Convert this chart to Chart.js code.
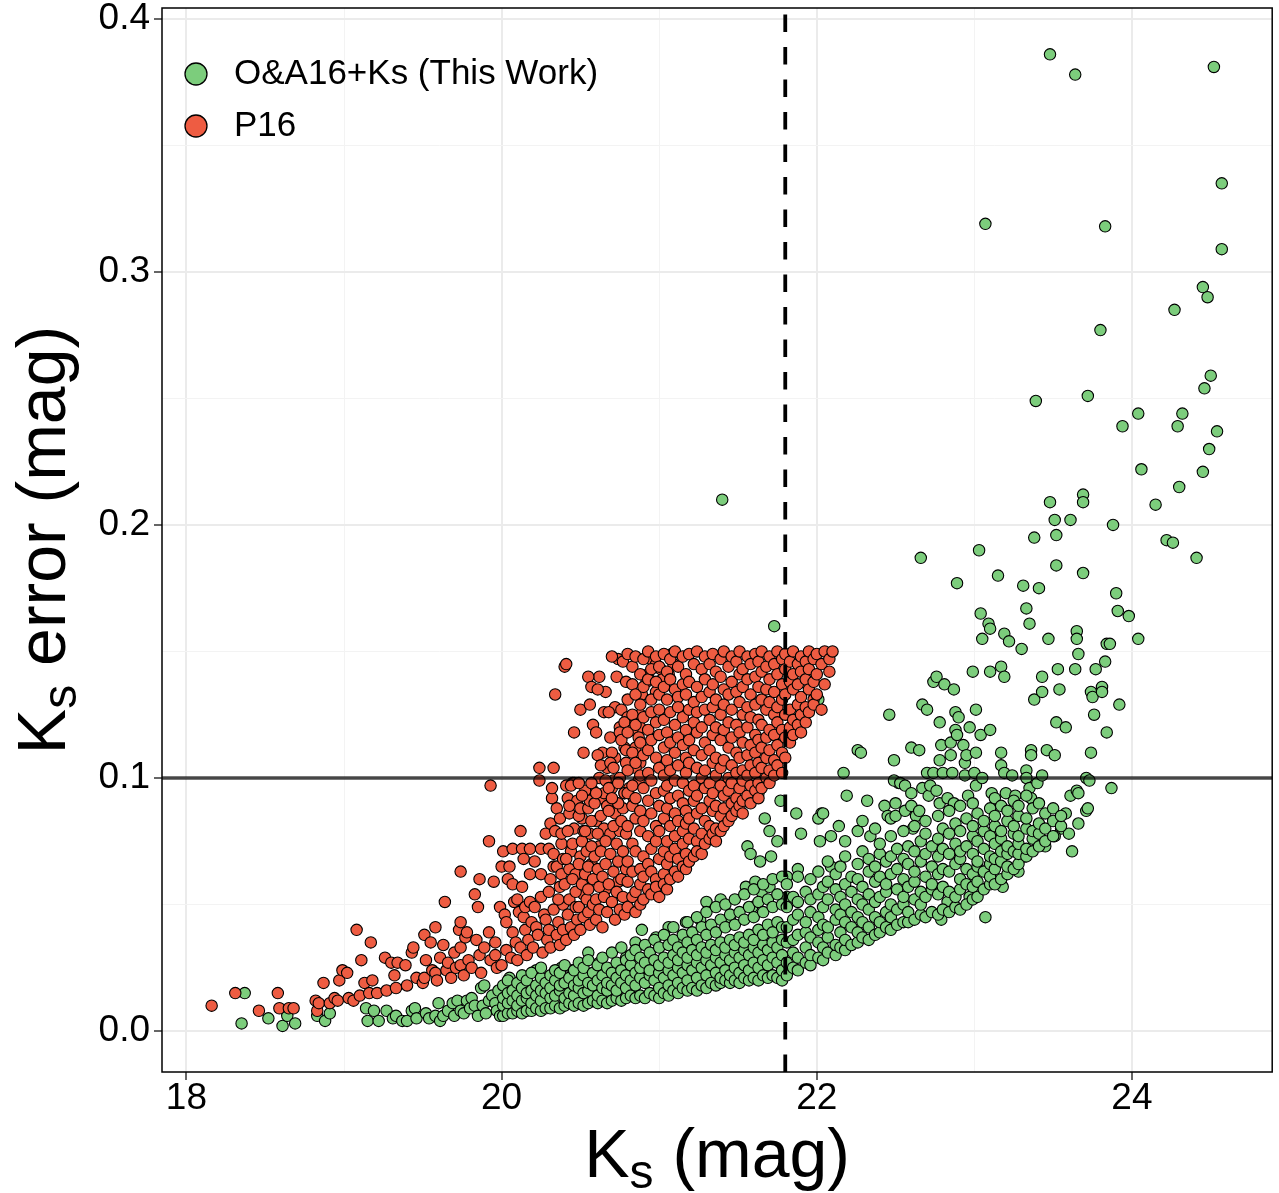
<!DOCTYPE html>
<html>
<head>
<meta charset="utf-8">
<script src="https://cdn.jsdelivr.net/npm/chart.js@4.4.0/dist/chart.umd.min.js"></script>
<style>
  html, body { margin: 0; padding: 0; background: #fff; }
</style>
</head>
<body>
<canvas id="chart-scatter" width="1279" height="1193"></canvas>
<script>
// cut lines
const ksCut = 21.8;
const errCut = 0.1;

// axes
const xGrid = [18, 19, 20, 21, 22, 23, 24];
const xTickLabels = ["18", "", "20", "", "22", "", "24"];
const yGrid = [0, 0.05, 0.1, 0.15, 0.2, 0.25, 0.3, 0.35, 0.4];
const yTickLabels = ["0.0", "", "0.1", "", "0.2", "", "0.3", "", "0.4"];

const seriesNames = ["O&A16+Ks (This Work)", "P16"];
const seriesColors = ["#7ccd7c", "#ee5c42"];

// O&A16+Ks: single points [Ks, err]
const oaPts = [
  [18.37,.015],[18.35,.003],[18.52,.005],[18.61,.002],[18.64,.006],[18.69,.003],[18.83,.006],[18.88,.004],[18.91,.007],
  [19.14,.009],[19.15,.004],[19.19,.008],[19.22,.004],[19.27,.008],[19.31,.005],[19.33,.006],[19.37,.004],[19.40,.004],
  [19.43,.008],[19.45,.009],[19.46,.005],[19.52,.007],[19.54,.005],[19.58,.006],[19.60,.011],[19.61,.004],[19.63,.006],
  [19.66,.008],[19.69,.011],[19.70,.006],[19.72,.012],[19.74,.008],[19.76,.007],[19.78,.012],[19.80,.009],[19.81,.013],
  [19.83,.010],[19.85,.006],[19.87,.017],[19.88,.010],[19.89,.018],[19.90,.007],[19.92,.012],[19.94,.014],[19.96,.011],
  [19.97,.008],[19.98,.016],[19.99,.006],
  [20.05,.021],[20.13,.021],[20.22,.024],[20.38,.025],[20.45,.024],[20.49,.025],[20.55,.031],[20.62,.027],[20.70,.024],
  [20.79,.029],[20.81,.028],[20.85,.035],[20.89,.040],[20.95,.029],[20.98,.037],[21.06,.041],[21.14,.036],[21.17,.043],
  [21.21,.037],[21.26,.044],[21.30,.051],[21.39,.052],[21.45,.045],[21.55,.057],[21.59,.049],[21.61,.059],[21.56,.073],
  [21.58,.070],[21.64,.067],[21.65,.055],[21.67,.084],[21.70,.079],[21.70,.057],[21.71,.069],[21.75,.075],[21.77,.091],
  [21.63,.094],[21.73,.160],[21.40,.210],[21.81,.061],[21.81,.053],[21.87,.086],[21.88,.064],[21.90,.078],[22.01,.131],
  [22.03,.086],[22.01,.084],[22.02,.075],[22.04,.086],[22.09,.077],[22.09,.065],[22.14,.081],[22.17,.102],[22.18,.075],
  [22.19,.093],[22.26,.079],[22.26,.111],[22.28,.110],[22.29,.083],[22.32,.091],[22.34,.077],[22.37,.080],[22.43,.089],
  [22.45,.085],[22.47,.084],[22.50,.085],[22.52,.098],[22.56,.087],[22.61,.080],[22.63,.085],
  [22.46,.125],[22.49,.107],[22.49,.099],[22.50,.090],[22.53,.098],[22.56,.097],[22.60,.112],[22.60,.094],[22.60,.089],
  [22.65,.111],[22.65,.087],[22.66,.187],[22.67,.096],[22.67,.129],[22.70,.127],[22.70,.102],[22.71,.093],[22.72,.097],
  [22.74,.138],[22.74,.102],[22.76,.140],[22.76,.095],[22.78,.122],[22.78,.107],[22.78,.090],[22.79,.113],[22.80,.102],
  [22.81,.137],[22.83,.092],[22.85,.114],[22.85,.109],[22.86,.102],[22.87,.135],[22.87,.090],[22.88,.126],[22.88,.119],
  [22.89,.177],[22.89,.117],[22.90,.124],[22.93,.113],[22.94,.106],[22.94,.101],[22.95,.109],[22.96,.093],[22.97,.120],
  [22.99,.142],[23.00,.102],[23.01,.127],[23.01,.110],[23.01,.097],[23.03,.190],[23.04,.165],[23.04,.117],[23.05,.155],
  [23.05,.100],[23.07,.319],[23.07,.045],[23.09,.161],[23.10,.159],[23.10,.142],[23.10,.119],[23.11,.094],[23.15,.180],
  [23.17,.144],[23.17,.110],[23.17,.105],[23.19,.140],[23.19,.157],[23.19,.102],[23.20,.094],[23.22,.154],[23.24,.101],
  [23.26,.093],[23.30,.151],[23.31,.176],[23.33,.167],[23.33,.103],[23.33,.100],[23.35,.161],[23.35,.096],[23.36,.111],
  [23.36,.109],[23.36,.092],[23.38,.195],[23.38,.131],[23.39,.249],[23.40,.098],[23.41,.175],[23.43,.140],[23.43,.134],
  [23.43,.101],[23.46,.111],[23.47,.155],[23.48,.386],[23.48,.209],[23.51,.202],[23.51,.109],[23.52,.196],[23.52,.184],
  [23.52,.122],[23.53,.143],[23.54,.135],[23.58,.120],[23.61,.202],[23.61,.093],[23.64,.378],[23.64,.143],[23.65,.158],
  [23.65,.155],[23.65,.095],[23.66,.149],[23.66,.094],[23.69,.212],[23.69,.209],[23.69,.181],[23.71,.100],[23.71,.087],
  [23.72,.251],[23.72,.088],[23.73,.099],[23.74,.134],[23.74,.110],[23.75,.132],[23.76,.125],[23.77,.143],[23.80,.277],
  [23.81,.136],[23.81,.134],[23.83,.318],[23.83,.146],[23.84,.153],[23.84,.118],[23.86,.153],[23.87,.096],[23.88,.200],
  [23.90,.173],[23.91,.166],[23.92,.129],[23.94,.239],[23.98,.164],[24.04,.244],[24.04,.155],[24.06,.222],[24.15,.208],
  [24.22,.194],[24.26,.193],[24.27,.285],[24.29,.239],[24.30,.215],[24.32,.244],[24.41,.187],[24.45,.294],[24.45,.221],
  [24.46,.254],[24.48,.290],[24.49,.230],[24.50,.259],[24.52,.381],[24.54,.237],[24.57,.335],[24.57,.309],
  [23.55,.080],[23.58,.086],[23.60,.078],[23.62,.071],[23.66,.082],[23.45,.073],[23.51,.077],[23.32,.069],[23.28,.063],
  [23.18,.057],[22.79,.044],[22.83,.051],[22.97,.053]
];

// O&A16+Ks: dense band, read column by column [Ks, [err...]]
const oaCols = [
  [20.01,[.006,.010,.013,.018]],[20.04,[.007,.011,.015,.020]],[20.07,[.007,.012,.016]],
  [20.10,[.008,.010,.014,.019]],[20.13,[.007,.012,.017,.022]],[20.16,[.008,.013,.015,.020]],
  [20.19,[.008,.011,.016,.023]],[20.22,[.009,.014,.018]],[20.25,[.008,.012,.016,.021,.025]],
  [20.28,[.009,.015,.019]],[20.31,[.009,.013,.017,.022]],[20.34,[.010,.014,.020,.024]],
  [20.37,[.009,.016,.018,.023]],[20.40,[.010,.013,.019,.026]],[20.43,[.011,.015,.021]],
  [20.46,[.010,.014,.018,.024]],[20.49,[.011,.017,.020,.027]],[20.52,[.010,.015,.022,.025]],
  [20.55,[.011,.016,.019,.028]],[20.58,[.012,.018,.023]],[20.61,[.011,.014,.020,.026]],
  [20.64,[.012,.017,.022,.029]],[20.67,[.011,.016,.019,.025]],[20.70,[.012,.018,.023,.031]],
  [20.73,[.013,.016,.021,.027]],[20.76,[.012,.019,.024,.033]],[20.79,[.013,.017,.022,.028]],
  [20.82,[.014,.020,.026,.030]],[20.85,[.013,.018,.023,.032]],[20.88,[.014,.021,.025,.029]],
  [20.91,[.013,.019,.027,.034]],[20.94,[.015,.022,.024,.031]],[20.97,[.014,.020,.028,.036]],
  [21.00,[.013,.017,.023,.026,.033]],[21.03,[.015,.021,.029,.038]],[21.06,[.014,.018,.024,.027,.034]],
  [21.09,[.016,.022,.030,.036,.041]],[21.12,[.015,.019,.025,.028,.033]],[21.15,[.017,.023,.031,.038]],
  [21.18,[.016,.020,.026,.029,.035,.043]],[21.21,[.017,.024,.032,.039]],[21.24,[.016,.021,.027,.030,.036,.045]],
  [21.27,[.018,.025,.033,.041]],[21.30,[.017,.022,.028,.031,.038,.047]],[21.33,[.019,.026,.034,.042]],
  [21.36,[.018,.023,.029,.032,.039,.049]],[21.39,[.019,.021,.027,.035,.044]],[21.42,[.020,.024,.030,.033,.041,.050]],
  [21.45,[.019,.022,.028,.036,.046]],[21.48,[.020,.025,.031,.034,.042,.052]],[21.51,[.019,.023,.029,.037,.047]],
  [21.54,[.021,.026,.032,.035,.044,.054]],[21.57,[.020,.024,.030,.038,.049]],[21.60,[.021,.027,.033,.036,.045,.056]],
  [21.63,[.020,.025,.031,.040,.051]],[21.66,[.022,.028,.034,.038,.047,.058]],[21.69,[.021,.026,.032,.042,.052]],
  [21.72,[.022,.029,.035,.039,.049,.060]],[21.75,[.021,.027,.033,.043,.054]],[21.78,[.020,.024,.030,.036,.041,.050,.061]],
  [21.81,[.022,.027,.035,.041,.049,.058]],[21.85,[.025,.031,.036,.044,.053]],[21.88,[.024,.029,.038,.046,.051,.061]],
  [21.93,[.027,.033,.039,.043,.055]],[21.96,[.026,.030,.037,.047,.052,.060]],[22.01,[.029,.035,.040,.045,.054,.063]],
  [22.04,[.028,.033,.042,.049,.057]],[22.07,[.031,.037,.041,.052,.059,.067]],[22.12,[.030,.034,.044,.048,.056,.062]],
  [22.15,[.033,.039,.046,.053,.065]],[22.18,[.032,.036,.043,.050,.058,.069]],[22.22,[.034,.041,.047,.055,.061]],
  [22.26,[.035,.039,.045,.052,.060,.066]],[22.29,[.037,.043,.050,.057,.071]],[22.33,[.036,.041,.048,.054,.063,.068]],
  [22.37,[.038,.045,.051,.059,.065]],[22.40,[.039,.043,.053,.061,.070,.074]],[22.44,[.041,.047,.055,.058,.067]],
  [22.47,[.040,.045,.050,.062,.069,.077]],[22.51,[.042,.048,.056,.064,.072]],[22.55,[.043,.050,.053,.060,.068,.079]],
  [22.58,[.043,.047,.057,.066,.073]],[22.62,[.044,.052,.059,.063,.071,.081]],[22.66,[.046,.050,.055,.067,.075]],
  [22.69,[.045,.053,.061,.070,.078,.083]],[22.73,[.047,.056,.058,.065,.073]],[22.77,[.046,.054,.062,.069,.076,.085]],
  [22.80,[.048,.057,.064,.072,.080]],[22.84,[.047,.055,.063,.070,.078,.087]],[22.88,[.049,.053,.066,.074,.082]],
  [22.91,[.048,.056,.060,.068,.071,.079,.089]],[22.95,[.050,.058,.064,.073,.084]],[22.99,[.052,.057,.062,.070,.077,.081,.090]],
  [23.02,[.053,.059,.065,.067,.075,.086]],[23.06,[.056,.063,.072,.079,.083]],[23.10,[.058,.061,.066,.069,.077,.088]],
  [23.13,[.058,.064,.068,.074,.081,.085,.092]],[23.17,[.060,.067,.071,.076,.079,.089]],[23.21,[.062,.065,.070,.073,.083,.087]],
  [23.25,[.064,.071,.078,.081,.091]],[23.28,[.066,.070,.074,.077,.085,.089]],[23.33,[.069,.072,.080,.084,.093]],
  [23.37,[.071,.076,.079,.088]],[23.41,[.073,.078,.082,.090]],[23.45,[.075,.080,.086]],
  [23.50,[.077,.083,.088]],[23.55,[.081,.085]]
];

// P16: single points [Ks, err]
const p16Pts = [
  [18.16,.010],[18.31,.015],[18.46,.008],[18.58,.015],[18.59,.009],[18.65,.009],[18.68,.009],[18.82,.012],[18.83,.008],
  [18.84,.011],[18.87,.019],[18.91,.011],[18.94,.013],[18.96,.012],[18.97,.020],[18.99,.024],[19.02,.023],[19.03,.013],
  [19.06,.012],[19.08,.040],[19.10,.014],[19.11,.028],[19.13,.019],[19.16,.015],[19.17,.035],[19.18,.020],[19.21,.015],
  [19.26,.029],[19.27,.016],[19.30,.027],[19.32,.022],[19.33,.017],[19.34,.027],[19.39,.026],[19.40,.018],[19.43,.031],
  [19.44,.033],[19.46,.021],
  [19.50,.019],[19.51,.038],[19.51,.021],[19.52,.028],[19.55,.035],[19.56,.024],[19.58,.041],[19.58,.023],[19.59,.020],
  [19.61,.029],[19.63,.034],[19.64,.051],[19.65,.024],[19.66,.027],[19.68,.021],[19.70,.031],[19.71,.025],[19.73,.040],
  [19.74,.043],[19.74,.026],[19.74,.063],[19.74,.033],[19.76,.022],[19.77,.037],[19.78,.039],[19.79,.028],[19.81,.025],
  [19.83,.054],[19.84,.036],[19.85,.049],[19.86,.060],[19.86,.030],[19.87,.023],[19.89,.033],[19.92,.039],[19.92,.075],
  [19.93,.097],[19.93,.028],[19.95,.059],[19.96,.035],[19.96,.030],[19.97,.025],[19.99,.049],
  [20.00,.026],[20.00,.065],[20.01,.071],[20.02,.046],[20.03,.032],[20.03,.043],[20.04,.060],[20.05,.065],[20.06,.029],
  [20.07,.039],[20.07,.058],[20.07,.072],[20.08,.051],[20.09,.035],[20.10,.052],[20.10,.028],[20.11,.047],[20.12,.079],
  [20.12,.033],[20.13,.057],[20.13,.072],[20.14,.045],[20.14,.068],[20.15,.040],[20.15,.049],[20.16,.030],[20.17,.036],
  [20.18,.062],[20.18,.051],[20.18,.072],[20.19,.043],[20.20,.033],[20.21,.067],[20.21,.049],[20.22,.041],[20.23,.038],
  [20.24,.104],[20.24,.099],[20.25,.053],[20.25,.062],[20.25,.072],[20.26,.031],[20.27,.046],[20.28,.044],[20.28,.078],
  [20.29,.036],[20.30,.055],[20.30,.072],[20.30,.040],[20.31,.082],[20.31,.033],[20.32,.092],[20.32,.096],[20.33,.104],
  [20.33,.065],[20.33,.048],[20.34,.079],[20.34,.133],[20.35,.088],[20.35,.065],[20.35,.038],[20.36,.043],[20.37,.057],
  [20.37,.034],[20.38,.062],[20.38,.074],[20.38,.078],[20.39,.050],[20.39,.040],
  [20.31,.060],[20.33,.070],[20.36,.052],[20.37,.084],[20.39,.068],[20.40,.058],[20.42,.092],[20.43,.064],[20.44,.071],
  [20.46,.080],[20.47,.062],[20.48,.091],[20.50,.069],[20.51,.084],[20.52,.054],[20.54,.071],[20.56,.078],[20.57,.066],
  [20.58,.095],[20.60,.083],[20.62,.073],[20.63,.092],[20.65,.080],[20.66,.056],[20.67,.089],[20.69,.078],[20.71,.099],
  [20.72,.086],[20.74,.059],[20.75,.079],[20.77,.088],[20.78,.066],
  [20.46,.118],[20.50,.127],[20.52,.110],[20.58,.121],[20.62,.140],[20.66,.134],[20.72,.128],[20.74,.147],[20.60,.118],
  [20.40,.144],[20.41,.145],[20.41,.097],[20.41,.068],[20.41,.036],[20.42,.079],[20.42,.046],[20.43,.052],[20.43,.086],
  [20.43,.089],[20.44,.041],[20.45,.060],[20.45,.074],[20.45,.098],[20.46,.098],[20.46,.038],[20.47,.055],[20.47,.049],
  [20.48,.044],[20.49,.066],[20.49,.085],[20.49,.049],[20.50,.088],[20.50,.040],[20.51,.075],[20.51,.058],[20.52,.079],
  [20.52,.045],[20.53,.095],[20.53,.079],[20.53,.062],[20.54,.052],[20.55,.140],[20.55,.088],[20.55,.065],[20.55,.056],
  [20.55,.047],[20.56,.129],[20.56,.091],[20.56,.042],[20.57,.136],[20.57,.083],[20.57,.073],[20.58,.060],[20.58,.050],
  [20.59,.090],[20.59,.069],[20.60,.052],[20.60,.044],[20.61,.135],[20.61,.078],[20.61,.064],[20.62,.100],[20.62,.057],
  [20.62,.048],[20.63,.085],[20.63,.071],[20.64,.110],[20.64,.061],[20.64,.041],[20.65,.126],[20.65,.094],[20.65,.053],
  [20.66,.075],[20.66,.066],[20.67,.104],[20.67,.047],[20.68,.126],[20.68,.087],[20.68,.058],[20.69,.116],[20.69,.070],
  [20.70,.148],[20.70,.096],[20.70,.051],[20.71,.081],[20.71,.063],[20.72,.108],[20.72,.044],[20.73,.140],[20.73,.074],
  [20.73,.055],[20.74,.090],[20.74,.067],[20.75,.120],[20.75,.100],[20.75,.048],[20.76,.127],[20.76,.083],[20.76,.060],
  [20.77,.146],[20.77,.071],[20.77,.053],[20.78,.112],[20.78,.094],[20.78,.046],[20.79,.138],[20.79,.078],[20.79,.064],
  [20.80,.124],[20.78,.122],[20.85,.122],[20.88,.120],[20.88,.125],[20.83,.119],[20.87,.116],[20.75,.118],[20.76,.115],
  [20.79,.111],[20.85,.112],[20.70,.110],[20.61,.109],[20.63,.105],[20.69,.106],[20.71,.104],[20.79,.106],[20.88,.106],
  [20.85,.104],[20.44,.097],[20.49,.098],[20.57,.098],[20.66,.099],[20.68,.096],[20.74,.098],[20.81,.096],[20.87,.099],
  [20.51,.093],[20.60,.094],[20.70,.092],[20.78,.094],[20.84,.092],[20.95,.147],[20.98,.145],[20.93,.141],[21.01,.143],
  [21.08,.149],[21.09,.145],[21.06,.141],[21.02,.139],[20.92,.138],[20.98,.134],[20.89,.133]
];

// P16: dense core, read column by column [Ks, [err...]]
const p16Cols = [
  [20.80,[.149,.131,.118,.103,.094,.081,.067,.059,.049]],[20.83,[.144,.137,.125,.110,.097,.089,.074,.063,.053]],
  [20.85,[.148,.133,.121,.106,.092,.084,.071,.055,.047]],[20.88,[.141,.129,.114,.101,.087,.079,.064,.058,.050]],
  [20.90,[.147,.136,.124,.109,.096,.083,.069,.061,.052]],[20.93,[.150,.139,.119,.111,.102,.091,.077,.066,.056]],
  [20.95,[.143,.131,.126,.115,.099,.086,.072,.063,.054]],[20.98,[.148,.138,.122,.108,.094,.081,.075,.060,.057]],
  [21.00,[.144,.133,.127,.117,.104,.089,.079,.068,.053]],[21.03,[.149,.136,.123,.112,.101,.095,.084,.071,.062,.058]],
  [21.05,[.142,.131,.118,.107,.097,.088,.075,.066,.056]],[21.07,[.147,.139,.126,.114,.103,.092,.081,.069,.060]],
  [21.10,[.150,.135,.121,.110,.099,.086,.077,.072,.063]],[21.12,[.144,.132,.128,.116,.105,.093,.083,.068,.061]],
  [21.15,[.148,.137,.124,.113,.098,.090,.079,.074,.065]],[21.17,[.141,.133,.119,.108,.102,.087,.082,.070,.064]],
  [21.19,[.149,.138,.127,.115,.106,.095,.084,.076,.067]],[21.22,[.145,.130,.122,.111,.097,.091,.080,.069]],
  [21.24,[.150,.136,.126,.118,.104,.093,.086,.075,.071]],[21.27,[.143,.132,.120,.109,.100,.088,.078,.070]],
  [21.29,[.148,.139,.127,.114,.103,.096,.083,.074]],[21.32,[.145,.134,.123,.111,.098,.091,.081,.076]],
  [21.34,[.149,.137,.128,.117,.106,.094,.087,.078]],[21.36,[.142,.131,.120,.108,.101,.089,.080,.075]],
  [21.39,[.147,.140,.125,.115,.104,.097,.085,.079]],[21.41,[.150,.135,.129,.119,.107,.093,.088,.081]],
  [21.44,[.144,.133,.122,.112,.100,.095,.083]],[21.46,[.148,.138,.127,.116,.105,.098,.090,.085]],
  [21.49,[.146,.134,.121,.110,.102,.092,.087]],[21.51,[.150,.141,.130,.118,.108,.096,.089]],
  [21.53,[.143,.136,.125,.114,.103,.099,.091,.086]],[21.56,[.148,.139,.128,.120,.109,.101,.093]],
  [21.58,[.145,.133,.124,.113,.105,.097,.090]],[21.61,[.149,.140,.129,.117,.110,.102,.095]],
  [21.63,[.146,.136,.123,.115,.106,.098,.092]],[21.65,[.150,.142,.131,.121,.112,.104,.096]],
  [21.68,[.144,.135,.127,.116,.108,.100]],[21.70,[.148,.139,.130,.119,.111,.103,.098]],
  [21.73,[.145,.134,.125,.117,.107,.101]],[21.75,[.150,.141,.128,.122,.113,.105]],
  [21.78,[.147,.137,.131,.119,.110,.102]],[21.80,[.149,.143,.133,.125,.116,.108]],
  [21.83,[.146,.138,.127,.120,.114]],[21.85,[.150,.141,.135,.123,.117]],[21.88,[.145,.137,.129,.121]],
  [21.90,[.148,.142,.132,.125,.118]],[21.93,[.146,.139,.128,.122]],[21.95,[.150,.143,.135,.126]],
  [21.98,[.147,.138,.131,.129]],[22.00,[.149,.141,.133]],[22.03,[.145,.127]],[22.05,[.150,.137]],
  [22.08,[.147,.142]],[22.10,[.150]]
];

function toPoints(pts, cols) {
  const out = pts.map(function (p) { return { x: p[0], y: p[1] }; });
  cols.forEach(function (c) {
    c[1].forEach(function (v) { out.push({ x: c[0], y: v }); });
  });
  return out;
}

const fontFamily = "'Liberation Sans', Arial, Helvetica, sans-serif";

// reference lines, frame, legend and axis titles (with subscript s)
const overlayPlugin = {
  id: "overlay",
  afterDatasetsDraw(chart) {
    const ctx = chart.ctx;
    const a = chart.chartArea;
    const xs = chart.scales.x;
    const ys = chart.scales.y;

    ctx.save();
    ctx.beginPath();
    ctx.rect(a.left, a.top, a.right - a.left, a.bottom - a.top);
    ctx.clip();

    // horizontal cut
    const yy = ys.getPixelForValue(errCut);
    ctx.strokeStyle = "rgba(0,0,0,0.7)";
    ctx.lineWidth = 3.6;
    ctx.beginPath();
    ctx.moveTo(a.left, yy);
    ctx.lineTo(a.right, yy);
    ctx.stroke();

    // vertical dashed cut
    const xx = xs.getPixelForValue(ksCut);
    ctx.strokeStyle = "#000";
    ctx.lineWidth = 3.8;
    ctx.setLineDash([17.5, 15]);
    ctx.beginPath();
    ctx.moveTo(xx, a.bottom);
    ctx.lineTo(xx, a.top);
    ctx.stroke();
    ctx.restore();

    // panel border
    ctx.save();
    ctx.strokeStyle = "#000";
    ctx.lineWidth = 1.5;
    ctx.strokeRect(a.left, a.top, a.right - a.left, a.bottom - a.top);
    ctx.restore();

    // legend
    ctx.save();
    const rows = [74, 126];
    chart.data.datasets.forEach(function (ds, i) {
      ctx.beginPath();
      ctx.arc(196, rows[i], 11, 0, Math.PI * 2);
      ctx.fillStyle = ds.backgroundColor;
      ctx.fill();
      ctx.lineWidth = 1.3;
      ctx.strokeStyle = "#000";
      ctx.stroke();
      ctx.fillStyle = "#000";
      ctx.font = "35px " + fontFamily;
      ctx.textAlign = "left";
      ctx.textBaseline = "middle";
      ctx.fillText(ds.label, 234, rows[i]);
    });
    ctx.restore();

    // axis titles
    ctx.save();
    drawTitle(ctx, (a.left + a.right) / 2, 1177, " (mag)");
    ctx.translate(65, (a.top + a.bottom) / 2);
    ctx.rotate(-Math.PI / 2);
    drawTitle(ctx, 0, 0, " error (mag)");
    ctx.restore();
  }
};

function drawTitle(ctx, cx, baseY, rest) {
  const big = "68px " + fontFamily;
  const small = "48px " + fontFamily;
  ctx.font = big;
  const wK = ctx.measureText("K").width;
  const wRest = ctx.measureText(rest).width;
  ctx.font = small;
  const wS = ctx.measureText("s").width;
  const x0 = cx - (wK + wS + wRest) / 2;
  ctx.fillStyle = "#000";
  ctx.textAlign = "left";
  ctx.textBaseline = "alphabetic";
  ctx.font = big;
  ctx.fillText("K", x0, baseY);
  ctx.font = small;
  ctx.fillText("s", x0 + wK, baseY + 11);
  ctx.font = big;
  ctx.fillText(rest, x0 + wK + wS, baseY);
}

const ctx = document.getElementById("chart-scatter").getContext("2d");

new Chart(ctx, {
  type: "scatter",
  data: {
    datasets: [
      {
        label: seriesNames[0],
        data: toPoints(oaPts, oaCols),
        backgroundColor: seriesColors[0],
        borderColor: "#000",
        borderWidth: 1.1,
        pointRadius: 5.7,
        order: 2,
      },
      {
        label: seriesNames[1],
        data: toPoints(p16Pts, p16Cols),
        backgroundColor: seriesColors[1],
        borderColor: "#000",
        borderWidth: 1.1,
        pointRadius: 5.7,
        order: 1,
      },
    ],
  },
  options: {
    responsive: false,
    devicePixelRatio: 1,
    animation: false,
    events: [],
    layout: {
      padding: { top: 8, right: 4, left: 0, bottom: 0 },
    },
    plugins: {
      legend: { display: false },
      tooltip: { enabled: false },
    },
    scales: {
      x: {
        type: "linear",
        min: 17.845,
        max: 24.89,
        afterBuildTicks: function (scale) {
          scale.ticks = xGrid.map(function (v) { return { value: v }; });
        },
        afterFit: function (scale) {
          scale.height = 121;
          scale.paddingLeft = 0;
          scale.paddingRight = 0;
        },
        border: { display: false },
        grid: {
          color: function (c) { return xTickLabels[c.index] ? "#ebebeb" : "#f3f3f3"; },
          lineWidth: function (c) { return xTickLabels[c.index] ? 2 : 1; },
          tickColor: function (c) { return xTickLabels[c.index] ? "#333" : "rgba(0,0,0,0)"; },
          tickLength: 8,
          tickWidth: 1.5,
        },
        ticks: {
          autoSkip: false,
          maxRotation: 0,
          padding: 0,
          color: "#000",
          font: { size: 37, family: fontFamily, lineHeight: 1 },
          callback: function (value, index) { return xTickLabels[index]; },
        },
      },
      y: {
        type: "linear",
        min: -0.0162,
        max: 0.4043,
        afterBuildTicks: function (scale) {
          scale.ticks = yGrid.map(function (v) { return { value: v }; });
        },
        afterFit: function (scale) {
          scale.width = 162;
          scale.paddingTop = 0;
          scale.paddingBottom = 0;
        },
        border: { display: false },
        grid: {
          color: function (c) { return yTickLabels[c.index] ? "#ebebeb" : "#f3f3f3"; },
          lineWidth: function (c) { return yTickLabels[c.index] ? 2 : 1; },
          tickColor: function (c) { return yTickLabels[c.index] ? "#333" : "rgba(0,0,0,0)"; },
          tickLength: 8,
          tickWidth: 1.5,
        },
        ticks: {
          autoSkip: false,
          padding: 4,
          color: "#000",
          font: { size: 37, family: fontFamily, lineHeight: 1 },
          callback: function (value, index) { return yTickLabels[index]; },
        },
      },
    },
  },
  plugins: [overlayPlugin],
});
</script>
</body>
</html>
